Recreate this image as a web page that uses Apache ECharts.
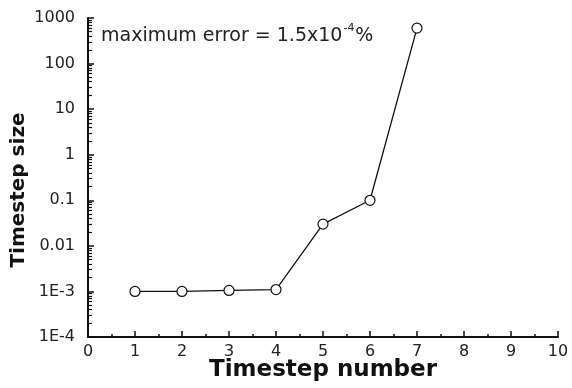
<!DOCTYPE html>
<html>
<head>
<meta charset="utf-8">
<script src="https://cdn.jsdelivr.net/npm/echarts@6/dist/echarts.min.js"></script>
<style>
  html, body { margin: 0; padding: 0; background: #fff; }
  #main { width: 572px; height: 388px; }
</style>
</head>
<body>
<div id="main"></div>
<script>
// timestep number vs timestep size
const steps = [1, 2, 3, 4, 5, 6, 7];
const sizes = [0.001, 0.001, 0.00105, 0.0011, 0.03, 0.1, 600];
const yLabels = { "0.0001": "1E-4", "0.001": "1E-3" };
const noteMain = "maximum error = 1.5x10";
const noteSup = "-4";
const noteTail = "%";

const myChart = echarts.init(document.getElementById("main"));

const font = "DejaVu Sans";
const axisText = { color: "#222", fontSize: 16, fontFamily: font };

// measure the annotation so the superscript can follow it
const ctx = document.createElement("canvas").getContext("2d");
ctx.font = "19px 'DejaVu Sans'";
const mainW = ctx.measureText(noteMain).width;
ctx.font = "11px 'DejaVu Sans'";
const supW = ctx.measureText(noteSup).width;

const noteX = 101;
const noteY = 36; // middle of the main line

const option = {
  animation: false,
  grid: { left: 88, right: 14, top: 18, bottom: 51, outerBoundsMode: "none" },
  graphic: [
    {
      type: "text",
      x: noteX,
      y: noteY,
      style: { text: noteMain, fontSize: 19, fontFamily: font, fill: "#222", verticalAlign: "middle" },
    },
    {
      type: "text",
      x: noteX + mainW + 1,
      y: noteY - 8,
      style: { text: noteSup, fontSize: 11, fontFamily: font, fill: "#222", verticalAlign: "middle" },
    },
    {
      type: "text",
      x: noteX + mainW + supW + 2,
      y: noteY,
      style: { text: noteTail, fontSize: 19, fontFamily: font, fill: "#222", verticalAlign: "middle" },
    },
    {
      // y axis title
      type: "text",
      x: 19,
      y: 190,
      rotation: Math.PI / 2,
      style: {
        text: "Timestep size",
        fontSize: 20,
        fontWeight: "bold",
        fontFamily: font,
        fill: "#111",
        align: "center",
        verticalAlign: "middle",
      },
    },
  ],
  xAxis: {
    type: "value",
    min: 0,
    max: 10,
    interval: 1,
    name: "Timestep number",
    nameLocation: "middle",
    nameGap: 22,
    nameMoveOverlap: false,
    nameTextStyle: { color: "#111", fontSize: 23, fontWeight: "bold", fontFamily: font },
    axisLine: { lineStyle: { color: "#111", width: 2 } },
    axisTick: { inside: true, length: 6, lineStyle: { color: "#111", width: 1.5 } },
    minorTick: { show: true, splitNumber: 2, length: 3, lineStyle: { color: "#111", width: 1.5 } },
    axisLabel: Object.assign({ margin: 7 }, axisText),
    splitLine: { show: false },
  },
  yAxis: {
    type: "log",
    logBase: 10,
    min: 0.0001,
    max: 1000,
    axisLine: { lineStyle: { color: "#111", width: 2 } },
    axisTick: { inside: true, length: 6, lineStyle: { color: "#111", width: 1.5 } },
    minorTick: { show: true, splitNumber: 9, length: 4, lineStyle: { color: "#111", width: 1.2 } },
    axisLabel: Object.assign({
      margin: 13,
      formatter: function (v) {
        const key = String(Number(v.toPrecision(6)));
        return yLabels[key] || key;
      },
    }, axisText),
    splitLine: { show: false },
  },
  series: [
    {
      type: "line",
      data: steps.map((s, i) => [s, sizes[i]]),
      symbol: "circle",
      symbolSize: 10,
      showAllSymbol: true,
      lineStyle: { color: "#111", width: 1.3 },
      itemStyle: { color: "#fff", borderColor: "#111", borderWidth: 1.2 },
    },
  ],
};

myChart.setOption(option);
</script>
</body>
</html>
